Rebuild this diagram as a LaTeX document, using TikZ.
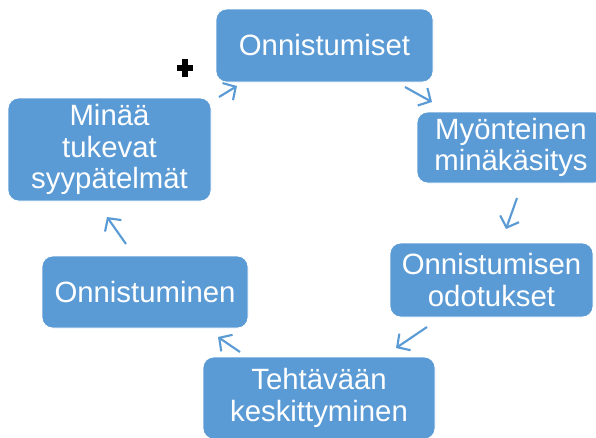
\documentclass[tikz,border=0pt]{standalone}
\usepackage{fontspec}
\setmainfont{Liberation Sans}
\usetikzlibrary{arrows.meta}
\definecolor{boxblue}{HTML}{5B9BD5}
\definecolor{arrblue}{HTML}{5B9BD5}
\tikzset{
  box/.style={rectangle, rounded corners=8pt, fill=boxblue, draw=white, line width=0.6pt,
    text=white, font=\fontsize{22}{23.5}\selectfont, align=center, inner sep=0pt},
  arr/.style={draw=arrblue, line width=1.6pt, -{Straight Barb[length=7pt,width=15pt,line width=1.6pt]}},
  plusarm/.style={line width=4.6pt}
}
\begin{document}
\begin{tikzpicture}[x=0.75pt,y=-0.75pt]
\useasboundingbox (0,0) rectangle (596,437);
\clip (0,0) rectangle (596,437);
\node[box, minimum width=162.75pt, minimum height=54.75pt] (n1) at (324.5,45.5) {Onnistumiset};
\node[box, minimum width=141pt, minimum height=53.25pt] (n2) at (511,147.5) {Myönteinen\\minäkäsitys};
\node[box, minimum width=152.25pt, minimum height=55.5pt] (n3) at (491.5,280) {Onnistumisen\\odotukset};
\node[box, minimum width=174pt, minimum height=61.5pt] (n4) at (319,398) {Tehtävään\\keskittyminen};
\node[box, minimum width=154.5pt, minimum height=54pt] (n5) at (145,292) {Onnistuminen};
\node[box, minimum width=152.25pt, minimum height=77.25pt] (n6) at (109.5,149.5) {Minää\\tukevat\\syypätelmät};
% arrow end points
\coordinate (a1s) at (405,87);  \coordinate (a1e) at (432,102);
\coordinate (a2s) at (517,198); \coordinate (a2e) at (506,229);
\coordinate (a3s) at (427,327); \coordinate (a3e) at (396,348);
\coordinate (a4s) at (240,352); \coordinate (a4e) at (218,337);
\coordinate (a5s) at (126,244); \coordinate (a5e) at (107,217);
\coordinate (a6s) at (219,97);  \coordinate (a6e) at (237,86);
\draw[arr] (a1s) -- (a1e);
\draw[arr] (a2s) -- (a2e);
\draw[arr] (a3s) -- (a3e);
\draw[arr] (a4s) -- (a4e);
\draw[arr] (a5s) -- (a5e);
\draw[arr] (a6s) -- (a6e);
% plus sign
\coordinate (plus) at (185,68);
\begin{scope}[shift={(1.5,1.5)}]
\draw[plusarm, black!35] ([xshift=-6pt]plus) -- ([xshift=6pt]plus);
\draw[plusarm, black!35] ([yshift=-6.6pt]plus) -- ([yshift=6.6pt]plus);
\end{scope}
\draw[plusarm, black] ([xshift=-6pt]plus) -- ([xshift=6pt]plus);
\draw[plusarm, black] ([yshift=-6.6pt]plus) -- ([yshift=6.6pt]plus);
\end{tikzpicture}
\end{document}
